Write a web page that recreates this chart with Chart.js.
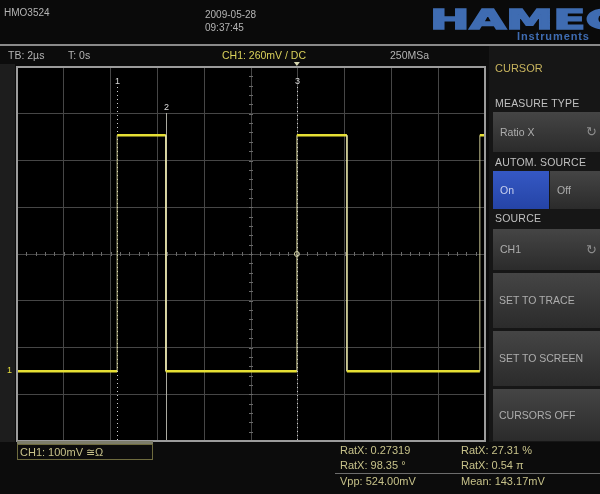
<!DOCTYPE html>
<html>
<head>
<meta charset="utf-8">
<script src="https://cdn.jsdelivr.net/npm/chart.js@4.4.1/dist/chart.umd.min.js"></script>
<style>
body { margin: 0; background: #0d0d0d; }
#scope { position: relative; width: 600px; height: 494px; background: #0c0c0c; overflow: hidden; font-family: "Liberation Sans", Arial, sans-serif; }
#scope div { position: absolute; white-space: nowrap; }
.hd { color: #b4b4b4; font-size: 10px; }
.lbl { color: #c0c0c0; font-size: 10.5px; letter-spacing: 0.2px; }
.btn { background: linear-gradient(#454545, #2b2b2b); color: #adadad; font-size: 10.5px; }
.meas { color: #c7c28a; font-size: 11px; }
canvas { position: absolute; left: 0; top: 0; }
</style>
</head>
<body>
<div id="scope">
  <!-- backgrounds -->
  <div style="left:0;top:0;width:600px;height:44px;background:#0a0a0a"></div>
  <div style="left:0;top:44px;width:600px;height:2px;background:#8a8a8a"></div>
  <div style="left:0;top:64px;width:15px;height:378px;background:#1d1d1d"></div>
  <div style="left:489px;top:46px;width:111px;height:396px;background:#161616"></div>

  <canvas id="scopeChart" width="600" height="494"></canvas>

  <!-- header -->
  <div class="hd" style="left:4px;top:7px">HMO3524</div>
  <div class="hd" style="left:205px;top:9px">2009-05-28</div>
  <div class="hd" style="left:205px;top:22px">09:37:45</div>
  <div style="left:430px;top:4px;color:#3f6cb2;font-family:'DejaVu Sans';font-weight:bold;font-size:27px;letter-spacing:0px;-webkit-text-stroke:1.5px #3f6cb2;transform:scaleX(1.75);transform-origin:left top">HAMEG</div>
  <div style="left:517px;top:30px;color:#3f6cb2;font-size:11px;font-weight:bold;letter-spacing:0.9px">Instruments</div>

  <div class="hd" style="left:8px;top:49px;font-size:10.5px">TB: 2µs</div>
  <div class="hd" style="left:68px;top:49px;font-size:10.5px">T: 0s</div>
  <div class="hd" style="left:222px;top:49px;font-size:10.5px;color:#d9d15a">CH1: 260mV / DC</div>
  <div class="hd" style="left:390px;top:49px;font-size:10.5px">250MSa</div>

  <!-- menu -->
  <div style="left:495px;top:62px;color:#c8b45e;font-size:11px">CURSOR</div>
  <div class="lbl" style="left:495px;top:97px">MEASURE TYPE</div>
  <div class="btn" style="left:493px;top:112px;width:107px;height:40px;line-height:40px"><span style="padding-left:7px">Ratio X</span><span style="position:absolute;left:93px;color:#8c8c8c;font-size:13px">↻</span></div>
  <div class="lbl" style="left:495px;top:156px">AUTOM. SOURCE</div>
  <div style="left:493px;top:171px;width:56px;height:38px;line-height:38px;background:linear-gradient(#3558c4,#2544a6);color:#c8d0ee;font-size:10.5px"><span style="padding-left:7px">On</span></div>
  <div class="btn" style="left:550px;top:171px;width:50px;height:38px;line-height:38px"><span style="padding-left:7px">Off</span></div>
  <div class="lbl" style="left:495px;top:212px">SOURCE</div>
  <div class="btn" style="left:493px;top:229px;width:107px;height:41px;line-height:41px"><span style="padding-left:7px">CH1</span><span style="position:absolute;left:93px;color:#8c8c8c;font-size:13px">↻</span></div>
  <div class="btn" style="left:493px;top:273px;width:107px;height:55px;line-height:55px"><span style="padding-left:6px">SET TO TRACE</span></div>
  <div class="btn" style="left:493px;top:331px;width:107px;height:55px;line-height:55px"><span style="padding-left:6px">SET TO SCREEN</span></div>
  <div class="btn" style="left:493px;top:389px;width:107px;height:52px;line-height:52px"><span style="padding-left:6px">CURSORS OFF</span></div>

  <!-- bottom info -->
  <div style="left:17px;top:441px;width:136px;height:3px;background:#7d7d6a"></div>
  <div style="left:17px;top:444px;width:134px;height:14px;border:1px solid #6e6b3e;color:#c7c28a;font-size:11px;line-height:14px"><span style="padding-left:2px">CH1: 100mV ≅Ω</span></div>
  <div class="meas" style="left:340px;top:444px">RatX: 0.27319</div>
  <div class="meas" style="left:461px;top:444px">RatX: 27.31 %</div>
  <div class="meas" style="left:340px;top:459px">RatX: 98.35 °</div>
  <div class="meas" style="left:461px;top:459px">RatX: 0.54 π</div>
  <div style="left:335px;top:473px;width:265px;height:1px;background:#6d6d6d"></div>
  <div class="meas" style="left:340px;top:475px">Vpp: 524.00mV</div>
  <div class="meas" style="left:461px;top:475px">Mean: 143.17mV</div>
</div>

<script>
// trace: time in µs (2 µs/div), CH1 in mV (100 mV/div)
var timeUs = [0, 4.28, 4.28, 6.36, 6.36, 11.96, 11.96, 14.1, 14.1, 19.78, 19.78, 20];
var ch1mV = [-251, -251, 254, 254, -251, -251, 254, 254, -251, -251, 254, 254];

var cursorUs = [4.28, 6.36, 11.96];
var cursorLabels = ["1", "2", "3"];
var ch1Ground = -251;
var triggerUs = 11.96;
var triggerMv = 0;

var xMin = 0, xMax = 20, xStep = 2;
var yMin = -400, yMax = 400, yStep = 100;

var points = timeUs.map(function (t, i) {
    return { x: t, y: ch1mV[i] };
});

var scopeExtras = {
    id: 'scopeExtras',
    beforeDraw: function (chart) {
        var a = chart.chartArea, ctx = chart.ctx;
        ctx.save();
        ctx.fillStyle = '#000';
        ctx.fillRect(a.left, a.top, a.right - a.left, a.bottom - a.top);
        ctx.restore();
    },
    beforeDatasetsDraw: function (chart) {
        var a = chart.chartArea, ctx = chart.ctx;
        var xs = chart.scales.x, ys = chart.scales.y;
        ctx.save();
        // minor ticks on the centre axes
        ctx.strokeStyle = '#6a6a6a';
        ctx.lineWidth = 1;
        var cy = ys.getPixelForValue(0), cx = xs.getPixelForValue(10);
        for (var t = xMin; t <= xMax; t += 0.4) {
            var px = Math.round(xs.getPixelForValue(t)) + 0.5;
            ctx.beginPath(); ctx.moveTo(px, cy - 2); ctx.lineTo(px, cy + 2); ctx.stroke();
        }
        for (var v = yMin; v <= yMax; v += 20) {
            var py = Math.round(ys.getPixelForValue(v)) + 0.5;
            ctx.beginPath(); ctx.moveTo(cx - 2, py); ctx.lineTo(cx + 2, py); ctx.stroke();
        }
        // cursors
        cursorUs.forEach(function (c, i) {
            var px = Math.round(xs.getPixelForValue(c)) + 0.5;
            var top = a.top + (i === 1 ? 46 : 20);
            ctx.strokeStyle = i === 1 ? '#a9a9a0' : '#d0d0d0';
            ctx.setLineDash(i === 1 ? [] : [1, 3]);
            ctx.beginPath(); ctx.moveTo(px, top); ctx.lineTo(px, a.bottom); ctx.stroke();
            ctx.setLineDash([]);
            ctx.fillStyle = '#dcdcdc';
            ctx.font = '9px "Liberation Sans"';
            ctx.textAlign = 'center';
            ctx.fillText(cursorLabels[i], px, top - 3);
        });
        ctx.restore();
    },
    afterDraw: function (chart) {
        var a = chart.chartArea, ctx = chart.ctx;
        var xs = chart.scales.x, ys = chart.scales.y;
        ctx.save();
        ctx.strokeStyle = '#9c9c9c';
        ctx.lineWidth = 2;
        ctx.strokeRect(a.left, a.top, a.right - a.left, a.bottom - a.top);
        // channel ground marker
        var gy = ys.getPixelForValue(ch1Ground);
        ctx.fillStyle = '#e3dc3c';
        ctx.font = '9px "Liberation Sans"';
        ctx.textAlign = 'right';
        ctx.fillText('1', a.left - 5, gy + 2);
        // trigger markers
        var tx = xs.getPixelForValue(triggerUs);
        ctx.fillStyle = '#d6d6b0';
        ctx.beginPath();
        ctx.moveTo(tx - 3, a.top - 5); ctx.lineTo(tx + 3, a.top - 5); ctx.lineTo(tx, a.top - 1);
        ctx.closePath(); ctx.fill();
        var ty = ys.getPixelForValue(triggerMv);
        ctx.strokeStyle = '#c8c8a0';
        ctx.lineWidth = 1;
        ctx.beginPath(); ctx.arc(tx, ty, 2.5, 0, Math.PI * 2); ctx.stroke();
        ctx.restore();
    }
};

var ctx = document.getElementById('scopeChart').getContext('2d');
var scopeChart = new Chart(ctx, {
    type: 'line',
    data: {
        datasets: [{
            data: points,
            borderColor: '#e6df34',
            borderWidth: 2.5,
            pointRadius: 0,
            tension: 0,
            segment: {
                borderWidth: function (c) { return c.p0.parsed.x === c.p1.parsed.x ? 1 : 2.5; },
                borderColor: function (c) { return c.p0.parsed.x === c.p1.parsed.x ? 'rgba(235,232,170,0.85)' : '#e6df34'; }
            }
        }]
    },
    options: {
        responsive: false,
        animation: false,
        layout: { padding: { left: 17, top: 67, right: 115, bottom: 53 } },
        plugins: { legend: { display: false }, tooltip: { enabled: false } },
        scales: {
            x: {
                type: 'linear', min: xMin, max: xMax,
                ticks: { display: false, stepSize: xStep },
                grid: { color: '#464646', drawTicks: false },
                border: { display: false }
            },
            y: {
                min: yMin, max: yMax,
                ticks: { display: false, stepSize: yStep },
                grid: { color: '#464646', drawTicks: false },
                border: { display: false }
            }
        }
    },
    plugins: [scopeExtras]
});
</script>
</body>
</html>
